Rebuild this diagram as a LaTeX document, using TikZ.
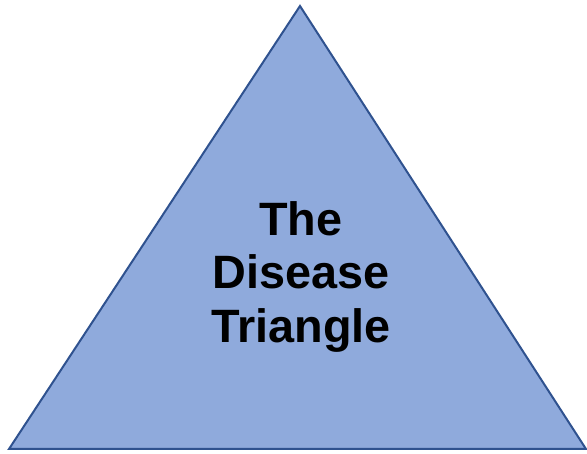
\documentclass[tikz,border=0pt]{standalone}
\usepackage{fontspec}
\setmainfont{Liberation Sans}
\usetikzlibrary{positioning}
\definecolor{trifill}{HTML}{8FAADC}
\definecolor{triedge}{HTML}{2F528F}
\tikzset{
  tri/.style={fill=trifill, draw=triedge, line width=2pt, line join=miter},
  title/.style={align=center, inner sep=0pt,
    font=\fontsize{46.8pt}{53.5pt}\selectfont\bfseries}
}
\begin{document}
\begin{tikzpicture}[x=1pt, y=-1pt]
  \useasboundingbox (0,0) rectangle (587,454);

  %% triangle corners
  \coordinate (apex)  at (300,6);
  \coordinate (left)  at (9,449);
  \coordinate (right) at (586,449);
  \draw[tri] (apex) -- (right) -- (left) -- cycle;

  %% title
  \node[title] (label) at (301,277) {The\\Disease\\Triangle};
\end{tikzpicture}
\end{document}
